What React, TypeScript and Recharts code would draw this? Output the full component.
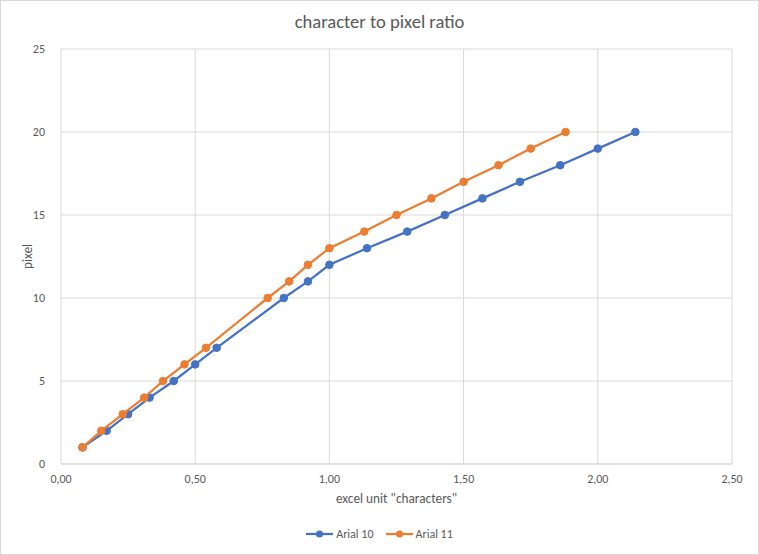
import { CartesianGrid, Label, Scatter, ScatterChart, XAxis, YAxis } from 'recharts'

const pixels = [1, 2, 3, 4, 5, 6, 7, 10, 11, 12, 13, 14, 15, 16, 17, 18, 19, 20]
const arial10Chars = [0.08, 0.17, 0.25, 0.33, 0.42, 0.5, 0.58, 0.83, 0.92, 1.0, 1.14, 1.29, 1.43, 1.57, 1.71, 1.86, 2.0, 2.14]
const arial11Chars = [0.08, 0.15, 0.23, 0.31, 0.38, 0.46, 0.54, 0.77, 0.85, 0.92, 1.0, 1.13, 1.25, 1.38, 1.5, 1.63, 1.75, 1.88]
const xTicks = [0, 0.5, 1, 1.5, 2, 2.5]
const yTicks = [0, 5, 10, 15, 20, 25]

const BLUE = '#4472c4'
const ORANGE = '#ed7d31'
const TEXT = '#595959'
const GRID = '#d9d9d9'
const FONT = "Carlito, 'Liberation Sans Narrow', 'Open Sans', sans-serif"

const toPoints = (xs: number[]) => xs.map((x, i) => ({ x, y: pixels[i] }))

const dot = (color: string) => (props: any) => (
  <circle cx={props.cx} cy={props.cy} r={3.8} fill={color} stroke={color} strokeWidth={1} />
)

function LegendItem({ color, label }: { color: string; label: string }) {
  return (
    <span style={{ display: 'flex', alignItems: 'center', gap: 3 }}>
      <svg width={27} height={10}>
        <line x1={0} y1={5} x2={27} y2={5} stroke={color} strokeWidth={2.25} />
        <circle cx={13.5} cy={5} r={3.6} fill={color} />
      </svg>
      <span>{label}</span>
    </span>
  )
}

export default function App() {
  const fmt = (v: number) => v.toFixed(2).replace('.', ',')
  return (
    <div
      style={{
        position: 'absolute',
        left: 0,
        top: 0,
        width: 757,
        height: 553,
        border: `1px solid ${GRID}`,
        background: '#fff',
        fontFamily: FONT,
      }}
    >
      <div
        style={{
          position: 'absolute',
          top: 9,
          left: 0,
          width: '100%',
          textAlign: 'center',
          fontSize: 18.6,
          color: TEXT,
        }}
      >
        character to pixel ratio
      </div>
      <ScatterChart width={757} height={553} margin={{ top: 48, right: 26, bottom: 0, left: 0 }}>
        <CartesianGrid stroke={GRID} strokeWidth={1} />
        <XAxis
          type="number"
          dataKey="x"
          domain={[0, 2.5]}
          ticks={xTicks}
          tickFormatter={fmt}
          height={90}
          stroke={GRID}
          tickLine={false}
          tick={{ fill: TEXT, fontSize: 12, fontFamily: FONT }}
          tickMargin={4}
        >
          <Label
            value={'excel unit "characters"'}
            position="insideTop"
            offset={30}
            fill={TEXT}
            fontSize={13.3}
            fontFamily={FONT}
          />
        </XAxis>
        <YAxis
          type="number"
          dataKey="y"
          domain={[0, 25]}
          ticks={yTicks}
          width={60}
          axisLine={false}
          tickLine={false}
          tick={{ fill: TEXT, fontSize: 12, fontFamily: FONT }}
          tickMargin={10}
        >
          <Label
            value="pixel"
            angle={-90}
            position="insideLeft"
            offset={26}
            textAnchor="middle"
            fill={TEXT}
            fontSize={13.3}
            fontFamily={FONT}
          />
        </YAxis>
        <Scatter
          name="Arial 10"
          data={toPoints(arial10Chars)}
          line={{ stroke: BLUE, strokeWidth: 2.25 }}
          lineType="joint"
          fill={BLUE}
          shape={dot(BLUE)}
          isAnimationActive={false}
        />
        <Scatter
          name="Arial 11"
          data={toPoints(arial11Chars)}
          line={{ stroke: ORANGE, strokeWidth: 2.25 }}
          lineType="joint"
          fill={ORANGE}
          shape={dot(ORANGE)}
          isAnimationActive={false}
        />
      </ScatterChart>
      <div
        style={{
          position: 'absolute',
          top: 526,
          left: 0,
          width: '100%',
          display: 'flex',
          justifyContent: 'center',
          gap: 12,
          fontSize: 12,
          color: TEXT,
        }}
      >
        <LegendItem color={BLUE} label="Arial 10" />
        <LegendItem color={ORANGE} label="Arial 11" />
      </div>
    </div>
  )
}
